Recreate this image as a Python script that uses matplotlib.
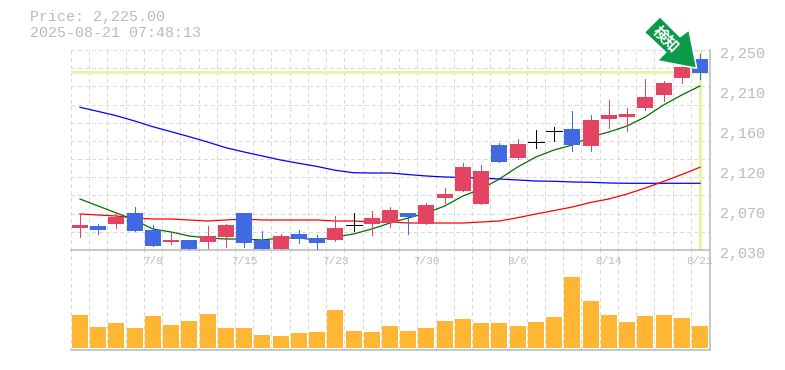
import matplotlib
matplotlib.use("Agg")
import matplotlib.pyplot as plt
import numpy as np
from matplotlib.patches import Polygon
from matplotlib.transforms import ScaledTranslation, IdentityTransform

opens = [2054.2,2056.4,2058.6,2070.7,2052,2038.8,2041,2038.8,2044.3,2070.7,2041,2031.1,2047.6,2043.2,2041,2057.5,2058.6,2059.7,2070.7,2059,2087.2,2094.9,2080.6,2145.5,2131,2148.8,2160.9,2163.1,2144.4,2174.1,2176.3,2186.2,2200.5,2219.2,2240.1]
closes = [2057.5,2052,2066.3,2050.9,2034.4,2041,2031.1,2045.4,2057.5,2037.7,2031.1,2045.4,2042.1,2037.7,2054.2,2057.5,2065.2,2074,2066.3,2079.5,2091.6,2121.3,2116.9,2126.8,2146.6,2148.8,2160.9,2145.5,2173,2178.5,2179.6,2198.3,2213.7,2231.3,2224.7]
highs = [2069.3,2058.6,2071.8,2077.3,2057.5,2049.8,2041,2056.4,2058.6,2070.7,2050.9,2047.6,2052,2046.5,2067.4,2070.7,2072.9,2077.3,2070.7,2081.7,2098.2,2125.7,2123.5,2147.7,2152.1,2162,2165.3,2182.9,2178.5,2195,2186.2,2218.1,2215.9,2232.4,2245.6]
lows = [2044.6,2047.6,2054.2,2050.9,2034.4,2036.6,2030,2032.2,2033.3,2033.3,2030,2030,2037.7,2031.1,2039.9,2050.9,2046.5,2055.3,2047.6,2058.9,2081.7,2094.9,2080.6,2126.8,2130.1,2142.2,2149.9,2138.9,2138.9,2164.2,2160.9,2184,2193.9,2213.7,2218.1]
ma_short = [2086.1,2078.4,2070.7,2063,2053.1,2049.8,2045.4,2043.2,2042.1,2042.1,2041,2043.2,2043.2,2041,2044.3,2047.6,2053.1,2059.7,2065.2,2070.7,2078.4,2089.4,2097.1,2108.1,2121.3,2132.3,2140,2145.5,2154.3,2159.8,2166.4,2176.3,2189.5,2200.5,2210.4]
ma_mid = [2069.6,2068.5,2067.4,2065.2,2064.1,2064.1,2063,2061.9,2063,2064.1,2063,2063,2063,2063,2061.9,2061.9,2060.8,2060.8,2059.7,2059.7,2059.7,2059.7,2060.8,2061.9,2065.5,2069.6,2073.4,2077.3,2082.3,2086.1,2091.6,2098.2,2105.4,2113,2121]
ma_long = [2187,2182.4,2177.7,2171.9,2165.6,2160.1,2154.6,2148.8,2142.5,2137.8,2133.4,2129,2125.4,2121.9,2117.7,2115,2114.7,2114.7,2113,2111.4,2110.3,2109.8,2109.2,2108.1,2107,2105.9,2105.6,2104.8,2104.5,2103.7,2103.4,2103.4,2103.4,2103.4,2103.4]
volumes = [33,21,25,20,32,23,27,34,20,20,13,12,15,16,38,17,16,22,17,20,27,29,25,25,22,26,31,71,47,33,26,32,33,30,22]
date_idx = [4,9,14,19,24,29,34]
date_labels = ["7/8","7/15","7/23","7/30","8/6","8/14","8/21"]
price_ticks = [2250,2206,2162,2118,2074,2030]
price_labels = ["2,250","2,210","2,160","2,120","2,070","2,030"]
last_price = 2225.8
title_lines = ["Price: 2,225.00","2025-08-21 07:48:13"]

W, H = 785, 370
GRAY = "#BBBBBB"; GRID = "#DADADA"; HL = "#E4F5AA"
RED = "#E24462"; BLUE = "#4169E1"; VOL = "#FFB733"
FONT = "Liberation Mono"
plt.rcParams["font.family"] = [FONT, "DejaVu Sans"]
px = 72 / 100

fig = plt.figure(figsize=(W/100, H/100), dpi=100)
def box(l, t, r, b):
    return [l/W, 1-b/H, (r-l)/W, (b-t)/H]

n = len(opens)
x = np.arange(n)
xlim = (-0.52, 34.55)
ax = fig.add_axes(box(70.5, 50, 710, 250))
av = fig.add_axes(box(70.5, 250, 710, 350))
ax.set_zorder(2); ax.patch.set_alpha(0); av.patch.set_alpha(0)

ax.set_xlim(*xlim); ax.set_ylim(2030, 2250)
av.set_xlim(*xlim); av.set_ylim(-2, 98)

for s in ax.spines.values(): s.set_visible(False)
for s in av.spines.values(): s.set_visible(False)
for a, sides in ((ax, ("right","bottom")), (av, ("right","bottom"))):
    for side in sides:
        a.spines[side].set_visible(True)
        a.spines[side].set_color(GRAY)
        a.spines[side].set_linewidth(1.6*px)

# grid
grid_x = x - 0.5
grid_y = np.arange(2030, 2251, 20)
dash = (0, (3, 3))
gridkw = dict(colors=GRID, linewidth=1.0*px, linestyles=dash, zorder=0, antialiased=False)
ax.vlines(grid_x, 2030, 2250, **gridkw)
ax.hlines(grid_y[1:], xlim[0], xlim[1], **gridkw)
av.vlines(grid_x, -2, 98, **gridkw)

# current price highlight
ax.axhline(last_price, color=HL, linewidth=3*px, zorder=1)
ax.plot([x[-1], x[-1]], [2031, 2250], color=HL, linewidth=3.2*px, zorder=1, solid_capstyle="butt")

# moving averages
linekw = dict(linewidth=1.25*px, zorder=2)
ax.plot(x, ma_long, color="#0000FF", **linekw)
ax.plot(x, ma_mid, color="#FF0000", **linekw)
ax.plot(x, ma_short, color="#007000", **linekw)

# candles
o, c, hi, lo = map(np.array, (opens, closes, highs, lows))
colors = np.where(c > o, RED, np.where(c < o, BLUE, "#000000"))
bw = 16/18.235
ax.vlines(x, lo, hi, colors=colors, linewidth=1.0*px, zorder=3, antialiased=False)
body = c != o
ax.bar(x[body], np.abs(c-o)[body], bottom=np.minimum(o, c)[body], width=bw, color=colors[body], zorder=4, linewidth=0)
ax.hlines(c[~body], x[~body]-bw/2, x[~body]+bw/2, colors="#000000", linewidth=1.0*px, zorder=4, antialiased=False)

# volume
av.bar(x, volumes, width=bw, color=VOL, linewidth=0, zorder=2)
av.set_xticks([]); av.set_yticks([])

# ticks
ax.set_xticks(date_idx, date_labels)
ax.tick_params(axis="x", length=0, pad=4, labelsize=11*px, labelcolor=GRAY)
ax.yaxis.tick_right()
ax.set_yticks(price_ticks, price_labels)
ax.tick_params(axis="y", length=0, pad=7, labelsize=15*px, labelcolor=GRAY)
shift = ScaledTranslation(0, -3/100, fig.dpi_scale_trans)
for lab in ax.get_yticklabels():
    lab.set_transform(lab.get_transform() + shift)

# header
for i, t in enumerate(title_lines):
    fig.text(30/W, 1-(17+i*16)/H, t, color=GRAY, fontsize=15*px, va="center", ha="left")

# detection arrow (drawn in figure pixels)
arrow_px = [(644.3,32.3),(660,16.7),(680,36.7),(689,30),(696.7,68.3),(657.3,60.7),(665.7,52.3)]
verts = [(a, H-b) for a, b in arrow_px]
arrow = Polygon(verts, closed=True, facecolor="#0B9A4A", edgecolor="white", linewidth=1.5*px,
                transform=IdentityTransform(), zorder=10, clip_on=False)
fig.add_artist(arrow)
fig.text(666/W, 1-39/H, "検知", rotation=-45, rotation_mode="anchor", ha="center", va="center",
         color="white", fontsize=15*px, fontweight="bold", family=["Noto Sans CJK JP","DejaVu Sans"], zorder=11)

fig.savefig("out.png", dpi=100, facecolor="white")
